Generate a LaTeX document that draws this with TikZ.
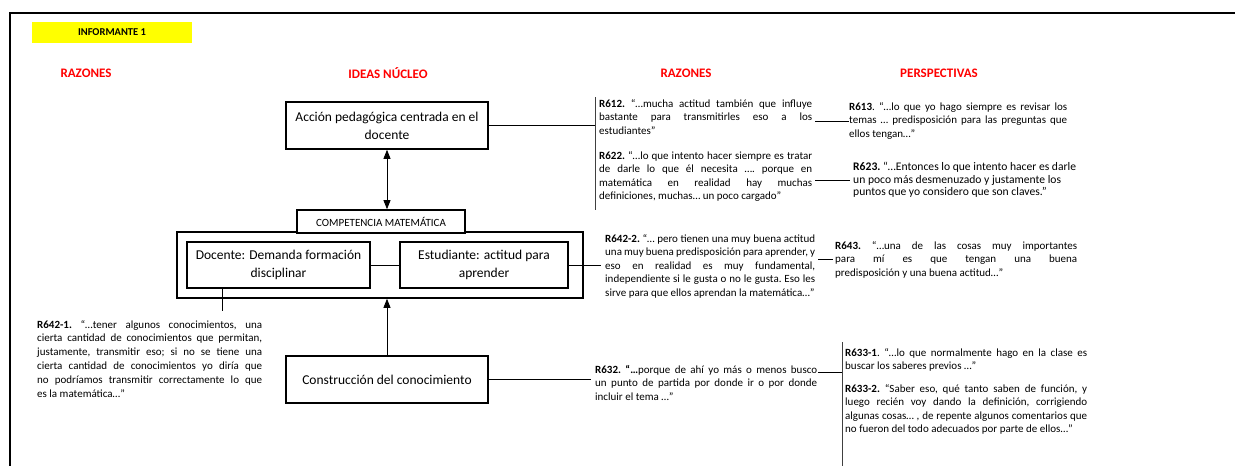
\documentclass[tikz,border=0pt]{standalone}
\usepackage{fontspec}
\setmainfont{Carlito}
\usetikzlibrary{arrows.meta}
\definecolor{hdrred}{RGB}{255,0,0}
\definecolor{tagyellow}{RGB}{255,255,0}
\newcommand{\quotesetup}{\frenchspacing\tolerance=10000\relax\hyphenpenalty=10000\relax}
\begin{document}
\begin{tikzpicture}[x=1pt,y=-1pt,
  idea/.style={draw,line width=1.6pt,align=center,inner sep=0pt,
    font=\fontsize{13.5}{18}\selectfont},
  header/.style={text=hdrred,inner sep=0pt,font=\fontsize{13}{15}\selectfont\bfseries},
  quote/.style={anchor=north west,inner sep=0pt,align=justify,
    font=\fontsize{11}{13.5}\selectfont\quotesetup},
  link/.style={line width=0.8pt},
  bracket/.style={line width=0.8pt,draw=black!75},
  tip/.style={-{Triangle[length=9pt,width=7pt]}},
  twotip/.style={{Triangle[length=9pt,width=7pt]}-{Triangle[length=9pt,width=7pt]}},
]
\useasboundingbox (0,0) rectangle (1235,466);

% page frame
\draw[line width=1.5pt] (10,466) -- (10,13) -- (1100,13);
\draw[line width=2.5pt] (1100,13) -- (1235,13);

% title tag and column headers
\node[fill=tagyellow,minimum width=160,minimum height=21,inner sep=0pt,
  font=\fontsize{10.5}{12}\selectfont\bfseries] (inf) at (112,32.5) {INFORMANTE 1};
\node[header] (h1) at (86,73) {RAZONES};
\node[header] (h2) at (388,73) {IDEAS NÚCLEO};
\node[header] (h3) at (686,73) {RAZONES};
\node[header] (h4) at (939,73) {PERSPECTIVAS};

% core ideas
\node[idea,minimum width=202,minimum height=47] (accion) at (387,125.5)
  {Acción pedagógica centrada en el\\docente};
\node[draw,line width=1.6pt,minimum width=406,minimum height=66,inner sep=0pt] (outer) at (380,265) {};
\node[idea,fill=white,minimum width=168,minimum height=23,
  font=\fontsize{11}{12}\selectfont] (compet) at (381,221.5) {COMPETENCIA MATEMÁTICA};
\node[idea,minimum width=183,minimum height=46] (docente) at (278.5,265)
  {Docente: Demanda formación\\disciplinar};
\node[idea,minimum width=168,minimum height=46] (estud) at (484,265)
  {Estudiante: actitud para\\aprender};
\node[idea,minimum width=202,minimum height=47] (constr) at (387,379.5)
  {Construcción del conocimiento};

% arrows between ideas
\draw[link,twotip] (accion.south) -- (accion.south |- compet.north);
\draw[link,tip] (constr.north) -- (constr.north |- outer.south);
\draw[link] (docente.east) -- (estud.west);

% quotations
\node[quote,text width=213] (r612) at (599,99)
  {\textbf{R612.} “…mucha actitud también que influye\linebreak
   bastante para transmitirles eso a los\linebreak estudiantes”};
\node[quote,text width=213] (r622) at (599,151)
  {\textbf{R622.} “…lo que intento hacer siempre es tratar\linebreak
   de darle lo que él necesita …. porque en\linebreak
   matemática en realidad hay muchas\linebreak
   definiciones, muchas… un poco cargado”};
\node[quote,text width=218] (r613) at (849,102)
  {\textbf{R613}. “…lo que yo hago siempre es revisar los\linebreak
   temas … predisposición para las preguntas que\linebreak ellos tengan…”};
\node[quote,align=left,font=\fontsize{11.6}{12.6}\selectfont\quotesetup] (r623) at (853,162)
  {\textbf{R623.} “…Entonces lo que intento hacer es darle\\
   un poco más desmenuzado y justamente los\\
   puntos que yo considero que son claves.”};
\node[quote,text width=210] (r6422) at (605,234)
  {\textbf{R642-2.} “… pero tienen una muy buena actitud\linebreak
   una muy buena predisposición para aprender, y\linebreak
   eso en realidad es muy fundamental,\linebreak
   independiente si le gusta o no le gusta. Eso les\linebreak
   sirve para que ellos aprendan la matemática…”};
\node[quote,text width=242] (r643) at (835,241)
  {\textbf{R643.} “…una de las cosas muy importantes\linebreak
   para mí es que tengan una buena\linebreak
   predisposición y una buena actitud…”};
\node[quote,text width=225,font=\fontsize{11}{13.8}\selectfont\quotesetup]
  (r6421) at (37,320)
  {\textbf{R642-1.} “…tener algunos conocimientos, una\linebreak
   cierta cantidad de conocimientos que permitan,\linebreak
   justamente, transmitir eso; si no se tiene una\linebreak
   cierta cantidad de conocimientos yo diría que\linebreak
   no podríamos transmitir correctamente lo que\linebreak
   es la matemática…”};
\node[quote,text width=222] (r632) at (595,365)
  {\textbf{R632. “…}porque de ahí yo más o menos busco\linebreak
   un punto de partida por donde ir o por donde\linebreak incluir el tema …”};
\node[quote,text width=242] (r6331) at (845,348)
  {\textbf{R633-1}. “…lo que normalmente hago en la clase es\linebreak
   buscar los saberes previos …”};
\node[quote,text width=242] (r6332) at (845,384)
  {\textbf{R633-2.} “Saber eso, qué tanto saben de función, y\linebreak
   luego recién voy dando la definición, corrigiendo\linebreak
   algunas cosas… , de repente algunos comentarios que\linebreak
   no fueron del todo adecuados por parte de ellos…”};

% brackets and connectors to the quotations
\coordinate (b1top) at (595,97);
\coordinate (b1bot) at (595,210);
\draw[bracket] (b1top) -- (b1bot);
\draw[link] (accion.east) -- (accion.east -| b1top);

\coordinate (l612) at (815,121);
\draw[link] (l612) -- (l612 -| r613.west);
\coordinate (l622) at (815,180);
\draw[link] (l622) -- ([xshift=-3pt]l622 -| r623.west);

\coordinate (e2) at (601,265);
\draw[link] (estud.east) -- (estud.east -| e2);
\coordinate (l6422) at (818,259);
\draw[link] (l6422) -- ([xshift=-2pt]l6422 -| r643.west);

\coordinate (d1) at (222,311);
\draw[link] (d1 |- docente.south) -- (d1);

\coordinate (c1) at (591,379.5);
\draw[link] (constr.east) -- (c1);

\coordinate (b2top) at (842,342);
\coordinate (b2bot) at (842,466);
\draw[bracket] (b2top) -- (b2bot);
\coordinate (l632) at (818,372);
\draw[link] (l632) -- (l632 -| b2top);
\end{tikzpicture}
\end{document}
